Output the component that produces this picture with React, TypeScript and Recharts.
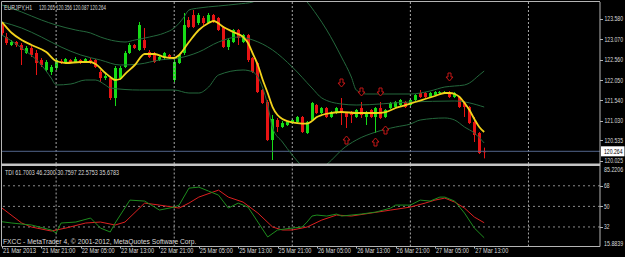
import React from 'react';
import { ComposedChart, Bar, Line, Scatter, XAxis, YAxis, ReferenceLine } from 'recharts';

// ---------- data ----------
const timeLabels = [
  '21 Mar 2013', '21 Mar 21:00', '22 Mar 05:00', '22 Mar 13:00', '22 Mar 21:00',
  '25 Mar 05:00', '25 Mar 13:00', '25 Mar 21:00', '26 Mar 05:00', '26 Mar 13:00',
  '26 Mar 21:00', '27 Mar 05:00', '27 Mar 13:00',
];
const timeLabelBars = [0, 8, 16, 24, 32, 40, 48, 56, 64, 72, 80, 88, 96];
const daySeparatorBars = [11, 35, 59, 83, 107];

const opens = [
  123.429, 123.129, 122.928, 123.003, 122.928, 122.728, 122.853, 122.728, 122.552, 122.302,
  122.252, 122.352, 122.527, 122.477, 122.552, 122.502, 122.552, 122.502, 122.552, 122.552,
  122.252, 122.101, 122.101, 121.600, 122.101, 122.377, 122.728, 122.928, 122.803, 123.053,
  122.753, 122.728, 122.552, 122.602, 122.678, 122.051, 122.477, 122.728, 123.555, 123.680,
  123.480, 123.605, 123.480, 123.680, 123.605, 123.379, 122.878, 123.003, 123.304, 123.003,
  123.178, 122.602, 122.477, 121.800, 121.500, 120.547, 121.048, 120.873, 120.923, 120.973,
  120.998, 121.124, 120.723, 121.048, 121.424, 121.224, 121.349, 121.124, 121.224, 121.349,
  121.224, 121.249, 121.124, 121.349, 121.124, 121.299, 121.124, 121.349, 121.124, 121.349,
  121.374, 121.424, 121.500, 121.424, 121.550, 121.725, 121.725, 121.625, 121.675, 121.725,
  121.725, 121.750, 121.625, 121.625, 121.500, 121.374, 120.998, 120.723, 120.265,
];
const highs = [
  123.505, 123.229, 123.053, 123.028, 122.978, 122.903, 122.903, 122.803, 122.602, 122.552,
  122.427, 122.602, 122.577, 122.602, 122.577, 122.627, 122.577, 122.602, 122.602, 122.577,
  122.302, 122.201, 122.151, 122.402, 122.402, 122.778, 122.978, 122.953, 123.505, 123.354,
  122.803, 122.753, 122.678, 122.753, 122.703, 122.552, 122.703, 123.730, 123.630, 123.805,
  123.730, 123.655, 123.730, 123.705, 123.630, 123.404, 123.104, 123.329, 123.329, 123.204,
  123.204, 122.627, 122.502, 121.825, 121.550, 121.174, 121.099, 121.023, 121.023, 121.074,
  121.149, 121.149, 121.023, 121.500, 121.449, 121.374, 121.374, 121.274, 121.374, 121.600,
  121.249, 121.274, 121.324, 121.500, 121.274, 121.324, 121.374, 121.500, 121.324, 121.500,
  121.525, 121.575, 121.525, 121.575, 121.700, 121.800, 121.750, 121.750, 121.775, 121.775,
  121.775, 121.775, 121.750, 121.650, 121.525, 121.399, 121.124, 120.748, 120.356,
];
const lows = [
  123.178, 122.928, 122.903, 122.878, 122.427, 122.703, 122.627, 122.176, 122.377, 122.252,
  122.176, 122.302, 122.452, 122.452, 122.477, 122.477, 122.452, 122.477, 122.452, 122.352,
  122.001, 122.051, 121.550, 121.399, 122.051, 122.352, 122.703, 122.828, 122.778, 122.803,
  122.602, 122.477, 122.527, 122.552, 122.577, 122.001, 122.452, 122.678, 123.354, 123.354,
  123.429, 123.429, 123.454, 123.480, 123.279, 122.853, 122.803, 122.978, 122.928, 122.978,
  122.502, 122.226, 121.725, 121.449, 120.522, 120.046, 120.748, 120.848, 120.898, 120.948,
  120.973, 120.723, 120.698, 121.023, 121.199, 121.199, 121.099, 121.099, 121.199, 120.923,
  120.848, 120.973, 121.099, 121.099, 120.923, 121.099, 120.723, 121.074, 121.099, 121.324,
  121.349, 121.399, 121.349, 121.399, 121.525, 121.600, 121.600, 121.600, 121.650, 121.700,
  121.700, 121.600, 121.600, 121.349, 121.124, 120.948, 120.497, 120.196, 120.087,
];
const closes = [
  123.229, 122.978, 123.003, 122.928, 122.803, 122.853, 122.678, 122.477, 122.427, 122.502,
  122.377, 122.552, 122.477, 122.577, 122.502, 122.577, 122.502, 122.577, 122.477, 122.377,
  122.101, 122.151, 121.600, 122.352, 122.352, 122.728, 122.928, 122.853, 123.429, 122.853,
  122.627, 122.502, 122.627, 122.728, 122.602, 122.502, 122.678, 123.429, 123.379, 123.379,
  123.680, 123.480, 123.680, 123.505, 123.304, 122.878, 123.053, 123.304, 123.104, 123.178,
  122.552, 122.252, 121.750, 121.475, 120.547, 121.074, 120.873, 120.973, 120.998, 121.048,
  121.124, 120.748, 120.998, 121.475, 121.224, 121.349, 121.124, 121.249, 121.349, 121.224,
  121.124, 121.174, 121.299, 121.174, 121.249, 121.124, 121.349, 121.099, 121.299, 121.475,
  121.500, 121.550, 121.374, 121.550, 121.675, 121.625, 121.625, 121.725, 121.750, 121.750,
  121.750, 121.625, 121.725, 121.374, 121.374, 120.973, 120.673, 120.221, 120.264,
];

const maBars = [0, 2, 4, 6, 9, 11, 13, 16, 18, 19, 21, 22, 23, 24, 25, 27, 29, 31, 33, 35, 36, 38, 40, 42, 43, 45, 47, 49, 50, 51, 52, 53, 54, 55, 56, 57, 58, 60, 62, 63, 64, 65, 67, 69, 72, 76, 78, 80, 82, 84, 86, 88, 90, 91, 92, 93, 94, 95, 96, 97, 98];
const maValues = [123.505, 123.229, 123.053, 122.928, 122.753, 122.527, 122.477, 122.502, 122.502, 122.452, 122.226, 122.126, 122.051, 122.076, 122.201, 122.427, 122.703, 122.703, 122.627, 122.602, 122.678, 123.003, 123.304, 123.480, 123.530, 123.379, 123.254, 123.129, 122.978, 122.703, 122.427, 122.051, 121.725, 121.374, 121.174, 121.074, 121.023, 120.973, 120.960, 121.023, 121.124, 121.174, 121.224, 121.249, 121.224, 121.224, 121.249, 121.349, 121.424, 121.500, 121.575, 121.650, 121.725, 121.725, 121.700, 121.625, 121.475, 121.299, 121.074, 120.873, 120.748];

const bbUpperBars = [0, 4, 8, 11, 15, 18, 20, 23, 25, 27, 30, 33, 35, 37, 38, 40, 44, 48, 51, 54, 58, 62, 64, 66, 69, 71, 72, 74, 76, 83, 87, 90, 92, 94, 95, 97, 98];
const bbUpperValues = [123.931, 123.755, 123.555, 123.429, 123.304, 123.229, 123.129, 123.028, 123.003, 123.053, 123.129, 123.229, 123.354, 123.630, 123.805, 123.855, 123.906, 123.956, 124.006, 124.432, 124.357, 124.006, 123.680, 123.304, 122.627, 122.126, 121.800, 121.700, 121.700, 121.700, 121.775, 121.876, 121.901, 121.926, 121.976, 122.176, 122.276];

const bbMidBars = [0, 4, 8, 12, 16, 20, 24, 28, 32, 36, 40, 44, 48, 51, 55, 59, 63, 65, 69, 72, 83, 92, 98];
const bbMidValues = [123.505, 123.354, 123.129, 122.878, 122.678, 122.552, 122.427, 122.452, 122.552, 122.602, 122.753, 123.003, 123.129, 123.053, 122.803, 122.377, 121.851, 121.600, 121.449, 121.424, 121.500, 121.525, 121.374];

const bbLowerBars = [0, 4, 8, 10, 11, 14, 17, 19, 21, 22, 28, 35, 38, 40, 42, 44, 49, 51, 53, 54, 55, 57, 59, 61, 63, 65, 67, 69, 72, 76, 80, 83, 85, 90, 92, 94, 96, 98];
const bbLowerValues = [123.178, 122.853, 122.427, 122.101, 121.926, 121.951, 122.051, 122.051, 121.926, 121.851, 121.800, 121.800, 121.725, 121.725, 121.876, 122.176, 122.302, 122.252, 121.851, 121.424, 120.848, 120.497, 120.171, 119.896, 119.745, 119.845, 120.046, 120.296, 120.547, 120.748, 120.873, 120.948, 121.048, 121.099, 121.048, 120.873, 120.723, 120.472];

const arrowDownBars = [69, 73, 77, 91];
const arrowDownValues = [121.951, 121.750, 121.750, 122.126];
const arrowUpBars = [70, 76, 78];
const arrowUpValues = [120.572, 120.522, 120.823];

const tdiPriceBars = [0, 2, 6, 10, 11, 12, 15, 18, 20, 22, 23, 26, 29, 31, 32, 35, 36, 38, 40, 42, 44, 46, 48, 50, 52, 54, 56, 59, 61, 62, 63, 64, 66, 68, 69, 73, 76, 79, 80, 83, 85, 87, 89, 90, 92, 94, 96, 98];
const tdiPriceValues = [36.57, 35.44, 33.70, 29.34, 26.72, 35.44, 36.31, 39.80, 31.08, 27.60, 35.44, 55.49, 54.62, 49.39, 46.77, 49.39, 51.13, 65.95, 66.83, 63.34, 59.85, 48.52, 52.88, 49.39, 36.31, 23.24, 29.34, 31.08, 31.95, 36.31, 41.54, 42.41, 41.54, 43.29, 41.54, 43.29, 45.03, 48.52, 51.13, 51.13, 55.49, 54.62, 58.11, 58.11, 54.62, 44.16, 31.08, 22.5753];

const tdiSignalBars = [0, 4, 6, 10, 13, 17, 20, 23, 25, 29, 32, 36, 38, 40, 44, 46, 49, 52, 55, 57, 59, 62, 65, 68, 71, 75, 79, 83, 86, 88, 90, 92, 94, 96, 98];
const tdiSignalValues = [48.52, 35.44, 31.95, 28.47, 31.08, 35.44, 36.31, 33.70, 36.31, 52.88, 51.13, 48.52, 52.88, 58.11, 64.21, 58.11, 53.75, 44.16, 31.95, 29.34, 29.34, 31.95, 38.06, 42.41, 41.54, 44.16, 46.77, 49.39, 52.88, 55.49, 57.24, 53.75, 48.52, 40.67, 35.6783];

const priceTicks = [123.58, 123.07, 122.56, 122.05, 121.54, 121.03, 120.535, 120.264, 120.025];
const lastPrice = 120.264;
const tdiTicks = [85.2206, 68, 50, 32, 15.8839];
const tdiLevels = [68, 50, 32];

const headerSymbol = 'EURJPY,H1';
const headerOhlc = '120.265 120.356 120.087 120.264';
const tdiCaption = 'TDI 61.7003 46.2300 30.7597 22.5753 35.6783';
const footerText = 'FXCC - MetaTrader 4, \u00A9 2001-2012, MetaQuotes Software Corp.';

// ---------- derived tables ----------
const candles = opens.map((o, i) => ({
  i, open: o, high: highs[i], low: lows[i], close: closes[i], range: [lows[i], highs[i]],
}));
const pts = (bars: number[], vals: number[]) => bars.map((b, k) => ({ i: b, v: vals[k] }));
const maData = pts(maBars, maValues);
const bbUpperData = pts(bbUpperBars, bbUpperValues);
const bbMidData = pts(bbMidBars, bbMidValues);
const bbLowerData = pts(bbLowerBars, bbLowerValues);
const downData = pts(arrowDownBars, arrowDownValues);
const upData = pts(arrowUpBars, arrowUpValues);
const tdiPriceData = pts(tdiPriceBars, tdiPriceValues);
const tdiSignalData = pts(tdiSignalBars, tdiSignalValues);

// ---------- style ----------
const W = 625;
const H = 257;
const X_MAX = 121.54;
const BG = '#000000';
const AXIS = '#b4b4b4';
const TXT = '#dcdcdc';
const BULL = '#17dc17';
const BEAR = '#e81414';
const MA_COLOR = '#f2d21b';
const BB_COLOR = '#24683c';
const TDI_GREEN = '#1e8c1e';
const TDI_RED = '#dc2020';
const ARROW = '#c41616';
const SEP = '#a8a8a8';
const PRICE_LINE = '#52648a';
const FONT = "'Liberation Sans', Arial, sans-serif";

// Arial / Liberation Sans advance widths (1/1000 em) to size the compressed labels
const CW: Record<string, number> = {
  ' ': 278, '.': 278, ',': 278, ':': 278, '-': 333, '\u00A9': 737,
  A: 667, B: 667, C: 722, D: 722, E: 667, F: 611, G: 778, H: 722, I: 278, J: 500, K: 667, L: 556, M: 833,
  N: 722, O: 778, P: 667, Q: 778, R: 722, S: 667, T: 611, U: 722, V: 667, W: 944, X: 667, Y: 667, Z: 611,
  a: 556, b: 556, c: 500, d: 556, e: 556, f: 278, g: 556, h: 556, i: 222, j: 222, k: 500, l: 222, m: 833,
  n: 556, o: 556, p: 556, q: 556, r: 333, s: 500, t: 278, u: 556, v: 500, w: 722, x: 500, y: 500, z: 500,
};
const natWidth = (s: string, size: number) => {
  let t = 0;
  for (const ch of s) t += CW[ch] ?? 556;
  return (t * size) / 1000;
};

const Txt = ({ x, y, w, children, fill = TXT, size = 7 }: any) => {
  const s = String(children);
  const sx = w / natWidth(s, size);
  return (
    <text transform={`translate(${x},${y}) scale(${sx.toFixed(4)},1)`} fontSize={size} fontFamily={FONT} fill={fill}>
      {s}
    </text>
  );
};

const Candle = (props: any) => {
  const { x, y, width, height, payload } = props;
  if (!payload || x == null || y == null) return null;
  const { open, close, high, low } = payload;
  const top = Math.min(y, y + height);
  const h = Math.abs(height);
  const span = high - low || 1;
  const py = (v: number) => top + ((high - v) / span) * h;
  const color = close >= open ? BULL : BEAR;
  const c = Math.floor(x + width / 2);
  const bt = py(Math.max(open, close));
  const bb = py(Math.min(open, close));
  return (
    <g>
      <line x1={c + 0.5} x2={c + 0.5} y1={top} y2={top + h} stroke={color} strokeWidth={1} />
      <rect x={c - 1} y={bt} width={3} height={Math.max(bb - bt, 1)} fill={color} />
    </g>
  );
};

const DownArrow = (p: any) => {
  const cx = Math.floor(p.cx) + 0.5;
  const cy = Math.floor(p.cy) + 0.5;
  return (
    <path d={`M${cx - 1.5},${cy - 4.5} h3 v4 h2 l-3.5,4 l-3.5,-4 h2 z`} fill={BG} stroke={ARROW} strokeWidth={1} />
  );
};
const UpArrow = (p: any) => {
  const cx = Math.floor(p.cx) + 0.5;
  const cy = Math.floor(p.cy) + 0.5;
  return (
    <path d={`M${cx - 1.5},${cy + 4.5} h3 v-4 h2 l-3.5,-4 l-3.5,4 h2 z`} fill={BG} stroke={ARROW} strokeWidth={1} />
  );
};

const PriceTick = (p: any) => {
  const v = p.payload.value;
  const y = p.y;
  const label = Number(v).toFixed(3);
  if (Math.abs(v - lastPrice) < 1e-6) {
    return (
      <g>
        <rect x={601} y={y - 5} width={23.5} height={10} fill="#ffffff" />
        <Txt x={604} y={y + 2.5} w={18.5} fill="#000000">{label}</Txt>
      </g>
    );
  }
  return (
    <g>
      <line x1={600} x2={603} y1={Math.round(y) + 0.5} y2={Math.round(y) + 0.5} stroke={AXIS} />
      <Txt x={604.5} y={y + 2.5} w={18.5}>{label}</Txt>
    </g>
  );
};

const TdiTick = (p: any) => {
  const v = p.payload.value;
  const label = String(v);
  const y = Math.min(Math.max(p.y, 3.5), 77);
  const isLevel = tdiLevels.indexOf(v) >= 0;
  return (
    <g>
      {isLevel && <line x1={600} x2={603} y1={Math.round(p.y) + 0.5} y2={Math.round(p.y) + 0.5} stroke={AXIS} />}
      <Txt x={604} y={y + 2.5} w={label.length * 2.75}>{label}</Txt>
    </g>
  );
};

const TimeTick = (p: any) => {
  const idx = timeLabelBars.indexOf(p.payload.value);
  const label = idx >= 0 ? timeLabels[idx] : '';
  const x = Math.round(p.x) + 0.5;
  return (
    <g>
      <line x1={x} x2={x} y1={80.5} y2={82.5} stroke={AXIS} />
      <Txt x={p.x + 1} y={86.5} w={33}>{label}</Txt>
    </g>
  );
};

export default function App() {
  return (
    <div style={{ position: 'absolute', left: 0, top: 0, width: W, height: H, background: BG, overflow: 'hidden' }}>
      <div style={{ position: 'absolute', left: 0, top: 0 }}>
        <ComposedChart width={W} height={166} data={candles} margin={{ top: 2, right: 0, bottom: 2, left: 2 }}>
          <XAxis type="number" dataKey="i" domain={[0, X_MAX]} allowDataOverflow hide />
          <YAxis
            orientation="right"
            width={25}
            domain={[119.946, 124.006]}
            allowDataOverflow
            ticks={priceTicks}
            interval={0}
            tickSize={3}
            tickMargin={2}
            tickLine={false}
            axisLine={{ stroke: AXIS }}
            tick={(p: any) => <PriceTick {...p} />}
          />
          {daySeparatorBars.map((d) => (
            <ReferenceLine key={`s${d}`} x={d} stroke={SEP} strokeDasharray="2 2" />
          ))}
          <ReferenceLine y={lastPrice} stroke={PRICE_LINE} />
          <Line data={bbUpperData} dataKey="v" type="monotone" stroke={BB_COLOR} strokeWidth={1} dot={false} isAnimationActive={false} />
          <Line data={bbMidData} dataKey="v" type="monotone" stroke={BB_COLOR} strokeWidth={1} dot={false} isAnimationActive={false} />
          <Line data={bbLowerData} dataKey="v" type="monotone" stroke={BB_COLOR} strokeWidth={1} dot={false} isAnimationActive={false} />
          <Bar dataKey="range" shape={(p: any) => <Candle {...p} />} isAnimationActive={false} />
          <Line data={maData} dataKey="v" type="monotone" stroke={MA_COLOR} strokeWidth={1.8} dot={false} isAnimationActive={false} />
          <Scatter data={downData} dataKey="v" shape={(p: any) => <DownArrow {...p} />} isAnimationActive={false} />
          <Scatter data={upData} dataKey="v" shape={(p: any) => <UpArrow {...p} />} isAnimationActive={false} />
        </ComposedChart>
      </div>
      <div style={{ position: 'absolute', left: 0, top: 166 }}>
        <ComposedChart width={W} height={91} data={tdiPriceData} margin={{ top: 0, right: 0, bottom: 0, left: 2 }}>
          <XAxis
            type="number"
            dataKey="i"
            domain={[0, X_MAX]}
            allowDataOverflow
            ticks={timeLabelBars}
            interval={0}
            height={10.5}
            tickSize={2}
            tickMargin={0}
            tickLine={false}
            axisLine={{ stroke: AXIS }}
            tick={(p: any) => <TimeTick {...p} />}
          />
          <YAxis
            orientation="right"
            width={25}
            domain={[14.92, 85.3]}
            allowDataOverflow
            ticks={tdiTicks}
            interval={0}
            tickSize={3}
            tickMargin={2}
            tickLine={false}
            axisLine={{ stroke: AXIS }}
            tick={(p: any) => <TdiTick {...p} />}
          />
          {tdiLevels.map((l) => (
            <ReferenceLine key={`l${l}`} y={l} stroke="#8a8a8a" strokeDasharray="2 3" />
          ))}
          {daySeparatorBars.map((d) => (
            <ReferenceLine key={`t${d}`} x={d} stroke={SEP} strokeDasharray="2 2" />
          ))}
          <Line data={tdiSignalData} dataKey="v" type="linear" stroke={TDI_RED} strokeWidth={1} dot={false} isAnimationActive={false} />
          <Line data={tdiPriceData} dataKey="v" type="linear" stroke={TDI_GREEN} strokeWidth={1} dot={false} isAnimationActive={false} />
        </ComposedChart>
      </div>
      <svg width={W} height={H} style={{ position: 'absolute', left: 0, top: 0, pointerEvents: 'none' }}>
        <line x1={1.5} x2={600} y1={1.5} y2={1.5} stroke={AXIS} />
        <line x1={1.5} x2={1.5} y1={1.5} y2={246.5} stroke={AXIS} />
        <rect x={1} y={163.5} width={599.5} height={2.5} fill="#c4c4c4" />
        <Txt x={4} y={9.5} w={29}>{headerSymbol}</Txt>
        <Txt x={39} y={9.5} w={67}>{headerOhlc}</Txt>
        <Txt x={5} y={175} w={114}>{tdiCaption}</Txt>
        <Txt x={3} y={243.5} w={194}>{footerText}</Txt>
      </svg>
    </div>
  );
}
